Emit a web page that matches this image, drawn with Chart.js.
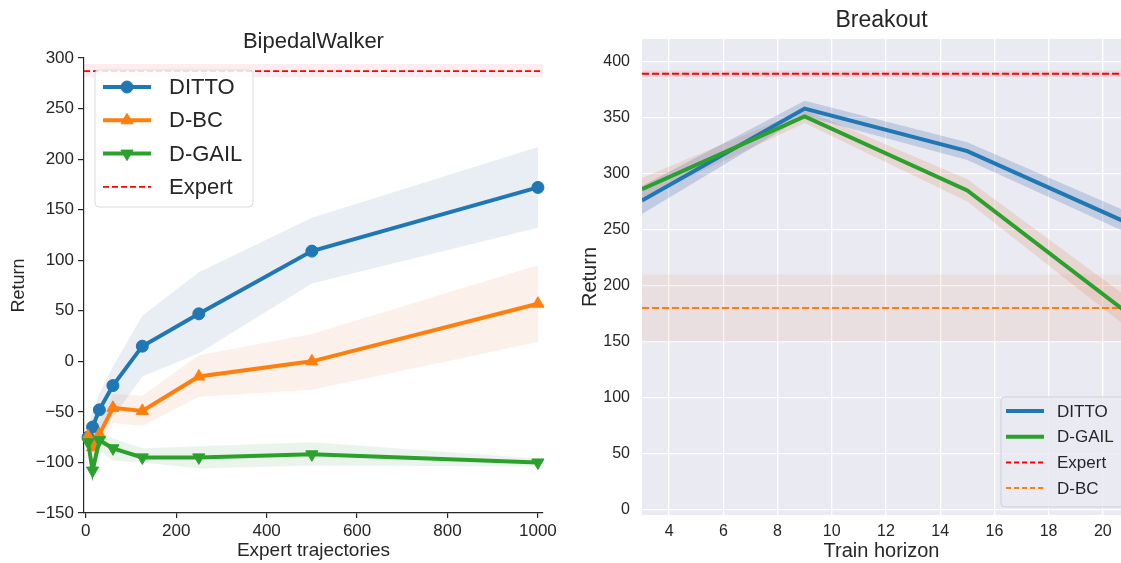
<!DOCTYPE html>
<html>
<head>
<meta charset="utf-8">
<script src="https://cdn.jsdelivr.net/npm/chart.js@4.4.0/dist/chart.umd.min.js"></script>
<style>
  html, body { margin: 0; padding: 0; background: #fff; }
  #wrap { position: relative; width: 1121px; height: 563px; overflow: hidden; }
  #left { position: absolute; left: 0; top: 0; }
  #right { position: absolute; left: 560px; top: 0; }
</style>
</head>
<body>
<div id="wrap">
  <canvas id="left" width="560" height="563"></canvas>
  <canvas id="right" width="561" height="563"></canvas>
</div>
<script>
const FONT = "'Liberation Sans', Arial, sans-serif";
const INK = '#262626';
const BLUE = '#1f77b4', ORANGE = '#ff7f0e', GREEN = '#2ca02c', RED = '#ff0000';

// ---- BipedalWalker (left) ----
const bwTraj      = [5, 15, 30, 60, 125, 250, 500, 1000];
const bwDitto     = [-75, -65, -48, -24, 15, 47, 109, 172];
const bwDittoLo   = [-85, -80, -65, -55, -15, 8, 77, 132];
const bwDittoHi   = [-65, -50, -32, -5, 45, 88, 142, 212];
const bwDbc       = [-74, -85, -72, -46, -49, -15, 0, 57];
const bwDbcLo     = [-88, -92, -88, -61, -64, -35, -28, 19];
const bwDbcHi     = [-65, -72, -58, -32, -34, 6, 27, 95];
const bwDgail     = [-80, -108, -78, -86, -95, -95, -92, -100];
const bwDgailLo   = [-90, -115, -88, -98, -100, -106, -103, -104];
const bwDgailHi   = [-70, -95, -70, -76, -86, -84, -80, -96];
const bwExpert    = 287;
const bwExpertLo  = 281;
const bwExpertHi  = 294;
const bwXRange    = [-4, 1011];
const bwYRange    = [-150, 300];
const bwXTicks    = [0, 200, 400, 600, 800, 1000];
const bwYTicks    = [-150, -100, -50, 0, 50, 100, 150, 200, 250, 300];

// ---- Breakout (right) ----
const boHorizon   = [3, 9, 15, 21];
const boDitto     = [276, 358, 320, 255];
const boDittoLo   = [264, 351, 312, 246];
const boDittoHi   = [289, 365, 328, 265];
const boDgail     = [286, 351, 285, 174];
const boDgailLo   = [277, 345, 275, 161];
const boDgailHi   = [296, 357, 295, 188];
const boExpert    = 389;
const boExpertLo  = 386;
const boExpertHi  = 392;
const boDbc       = 180;
const boDbcLo     = 150;
const boDbcHi     = 210;
const boXRange    = [3, 20.67];
const boYRange    = [-4.5, 420];
const boXTicks    = [4, 6, 8, 10, 12, 14, 16, 18, 20];
const boYTicks    = [0, 50, 100, 150, 200, 250, 300, 350, 400];

// ---- dataset helpers ----
const pts = (xs, ys) => xs.map((x, i) => ({ x, y: ys[i] }));
const across = (range, v) => range.map(() => v);

function line(xs, ys, color, extra) {
    return Object.assign({
        data: pts(xs, ys),
        borderColor: color,
        backgroundColor: color,
        pointBackgroundColor: color,
        pointBorderColor: color,
        pointBorderWidth: 1,
        borderWidth: 4,
        pointRadius: 0,
        fill: false,
        tension: 0,
    }, extra);
}

function band(xs, lo, hi, color, order) {
    return [
        { data: pts(xs, hi), borderWidth: 0, borderColor: 'transparent', pointRadius: 0, fill: false, order },
        { data: pts(xs, lo), borderWidth: 0, borderColor: 'transparent', pointRadius: 0, fill: '-1', backgroundColor: color, order },
    ];
}

// fixed tick lists, matplotlib-style minus sign
const useTicks = (list) => (scale) => { scale.ticks = list.map(value => ({ value })); };
const minus = (v) => String(v).replace('-', '\u2212');

// ---- plugins ----
const plotBg = {
    id: 'plotBg',
    beforeDraw(chart, args, opts) {
        const { ctx, chartArea: a } = chart;
        ctx.save();
        ctx.fillStyle = opts.color;
        ctx.fillRect(a.left, a.top, a.right - a.left, a.bottom - a.top);
        ctx.restore();
    },
};

function boxLegend(id, cfg) {
    return {
        id,
        afterDraw(chart) {
            const { ctx, chartArea } = chart;
            const x0 = chartArea.left + cfg.dx, y0 = chartArea.top + cfg.dy;
            ctx.save();
            ctx.beginPath();
            if (ctx.roundRect) ctx.roundRect(x0, y0, cfg.w, cfg.h, 4);
            else ctx.rect(x0, y0, cfg.w, cfg.h);
            ctx.fillStyle = cfg.fill;
            ctx.fill();
            ctx.lineWidth = 1;
            ctx.strokeStyle = cfg.edge;
            ctx.stroke();
            cfg.items.forEach((it, i) => {
                const y = y0 + cfg.firstRow + i * cfg.rowGap;
                ctx.beginPath();
                ctx.setLineDash(it.dash || []);
                ctx.strokeStyle = it.color;
                ctx.lineWidth = it.width;
                ctx.moveTo(x0 + cfg.lineX0, y);
                ctx.lineTo(x0 + cfg.lineX1, y);
                ctx.stroke();
                ctx.setLineDash([]);
                if (it.marker) {
                    ctx.fillStyle = it.color;
                    ctx.strokeStyle = it.color;
                    ctx.lineWidth = 1;
                    Chart.helpers.drawPoint(ctx, { pointStyle: it.marker, radius: it.radius, rotation: it.rotation || 0, borderWidth: 1 },
                        x0 + (cfg.lineX0 + cfg.lineX1) / 2, y);
                }
                ctx.fillStyle = INK;
                ctx.font = cfg.fontSize + 'px ' + FONT;
                ctx.textBaseline = 'middle';
                ctx.textAlign = 'left';
                ctx.fillText(it.label, x0 + cfg.textX, y + 1);
            });
            ctx.restore();
        },
    };
}

// ---- Chart: BipedalWalker ----
new Chart(document.getElementById('left'), {
    type: 'line',
    data: {
        datasets: [
            line(bwTraj, bwDgail, GREEN, { pointStyle: 'triangle', pointRotation: 180, pointRadius: 7, order: 1, clip: 10 }),
            line(bwTraj, bwDbc, ORANGE, { pointStyle: 'triangle', pointRadius: 7, order: 2, clip: 10 }),
            line(bwTraj, bwDitto, BLUE, { pointStyle: 'circle', pointRadius: 6, order: 3, clip: 10 }),
            line(bwXRange, across(bwXRange, bwExpert), RED, { borderWidth: 1.7, borderDash: [6, 3], order: 4 }),
            ...band(bwTraj, bwDittoLo, bwDittoHi, 'rgba(76,114,176,0.12)', 10),
            ...band(bwTraj, bwDbcLo, bwDbcHi, 'rgba(221,132,82,0.12)', 11),
            ...band(bwTraj, bwDgailLo, bwDgailHi, 'rgba(85,168,104,0.12)', 12),
            ...band(bwXRange, across(bwXRange, bwExpertLo), across(bwXRange, bwExpertHi), 'rgba(230,60,90,0.09)', 13),
        ],
    },
    options: {
        responsive: false,
        animation: false,
        devicePixelRatio: 1,
        layout: { padding: { left: 0, right: 17, top: 0, bottom: 0 } },
        plugins: {
            legend: { display: false },
            tooltip: { enabled: false },
            title: {
                display: true, text: 'BipedalWalker', color: INK, fullSize: false,
                font: { family: FONT, size: 22, weight: 'normal' },
                padding: { top: 29, bottom: 2.6 },
            },
        },
        scales: {
            x: {
                type: 'linear', min: bwXRange[0], max: bwXRange[1],
                afterFit: (s) => { s.height = 50; },
                afterBuildTicks: useTicks(bwXTicks),
                ticks: { color: INK, font: { family: FONT, size: 17 }, padding: 3, maxRotation: 0, autoSkip: false, callback: minus },
                grid: { drawOnChartArea: false, drawTicks: true, tickLength: 5, color: INK, lineWidth: 1.2 },
                border: { display: true, color: INK, width: 1.2 },
                title: { display: true, text: 'Expert trajectories', color: INK, font: { family: FONT, size: 19 }, padding: { top: 0, bottom: 0.5 } },
            },
            y: {
                type: 'linear', min: bwYRange[0], max: bwYRange[1],
                afterFit: (s) => { s.width = 84; },
                afterBuildTicks: useTicks(bwYTicks),
                ticks: { color: INK, font: { family: FONT, size: 17 }, padding: 4, autoSkip: false, callback: minus },
                grid: { drawOnChartArea: false, drawTicks: true, tickLength: 6, color: INK, lineWidth: 1.2 },
                border: { display: true, color: INK, width: 1.2 },
                title: { display: true, text: 'Return', color: INK, font: { family: FONT, size: 18 }, padding: { top: 8, bottom: 0 } },
            },
        },
    },
    plugins: [boxLegend('bwLegend', {
        dx: 11, dy: 12, w: 158, h: 137,
        fill: 'rgba(255,255,255,0.85)', edge: '#dcdcdc',
        firstRow: 17, rowGap: 33.3, lineX0: 8, lineX1: 56, textX: 74, fontSize: 22,
        items: [
            { label: 'DITTO', color: BLUE, width: 4, marker: 'circle', radius: 6 },
            { label: 'D-BC', color: ORANGE, width: 4, marker: 'triangle', radius: 7 },
            { label: 'D-GAIL', color: GREEN, width: 4, marker: 'triangle', radius: 7, rotation: 180 },
            { label: 'Expert', color: RED, width: 1.7, dash: [6, 3] },
        ],
    })],
});

// ---- Chart: Breakout ----
new Chart(document.getElementById('right'), {
    type: 'line',
    data: {
        datasets: [
            line(boHorizon, boDgail, GREEN, { order: 1 }),
            line(boHorizon, boDitto, BLUE, { order: 2 }),
            line(boXRange, across(boXRange, boExpert), RED, { borderWidth: 2, borderDash: [7, 3], order: 3 }),
            line(boXRange, across(boXRange, boDbc), ORANGE, { borderWidth: 2, borderDash: [7, 3], order: 3 }),
            ...band(boHorizon, boDittoLo, boDittoHi, 'rgba(76,114,176,0.25)', 10),
            ...band(boHorizon, boDgailLo, boDgailHi, 'rgba(221,132,82,0.2)', 11),
            ...band(boXRange, across(boXRange, boExpertLo), across(boXRange, boExpertHi), 'rgba(230,60,90,0.1)', 12),
            ...band(boXRange, across(boXRange, boDbcLo), across(boXRange, boDbcHi), 'rgba(221,132,82,0.1)', 13),
        ],
    },
    options: {
        responsive: false,
        animation: false,
        devicePixelRatio: 1,
        layout: { padding: 0 },
        plugins: {
            legend: { display: false },
            tooltip: { enabled: false },
            plotBg: { color: '#EAEAF2' },
            title: {
                display: true, text: 'Breakout', color: INK, fullSize: false,
                font: { family: FONT, size: 23, weight: 'normal' },
                padding: { top: 7.2, bottom: 4.2 },
            },
        },
        scales: {
            x: {
                type: 'linear', min: boXRange[0], max: boXRange[1],
                afterFit: (s) => { s.height = 48; },
                afterBuildTicks: useTicks(boXTicks),
                ticks: { color: INK, font: { family: FONT, size: 16 }, padding: 7, maxRotation: 0, autoSkip: false },
                grid: { drawTicks: false, color: '#ffffff', lineWidth: 1.3 },
                border: { display: false },
                title: { display: true, text: 'Train horizon', color: INK, font: { family: FONT, size: 20 }, padding: { top: 0, bottom: 0 } },
            },
            y: {
                type: 'linear', min: boYRange[0], max: boYRange[1],
                afterFit: (s) => { s.width = 82; },
                afterBuildTicks: useTicks(boYTicks),
                ticks: { color: INK, font: { family: FONT, size: 16 }, padding: 12, autoSkip: false },
                grid: { drawTicks: false, color: '#ffffff', lineWidth: 1.3 },
                border: { display: false },
                title: { display: true, text: 'Return', color: INK, font: { family: FONT, size: 20 }, padding: { top: 18, bottom: 0 } },
            },
        },
    },
    plugins: [plotBg, boxLegend('boLegend', {
        dx: 359, dy: 358, w: 140, h: 110,
        fill: 'rgba(234,234,242,0.85)', edge: '#cfcfd6',
        firstRow: 14, rowGap: 25.7, lineX0: 5, lineX1: 43, textX: 56, fontSize: 17,
        items: [
            { label: 'DITTO', color: BLUE, width: 4 },
            { label: 'D-GAIL', color: GREEN, width: 4 },
            { label: 'Expert', color: RED, width: 2, dash: [5, 3] },
            { label: 'D-BC', color: ORANGE, width: 2, dash: [5, 3] },
        ],
    })],
});
</script>
</body>
</html>
